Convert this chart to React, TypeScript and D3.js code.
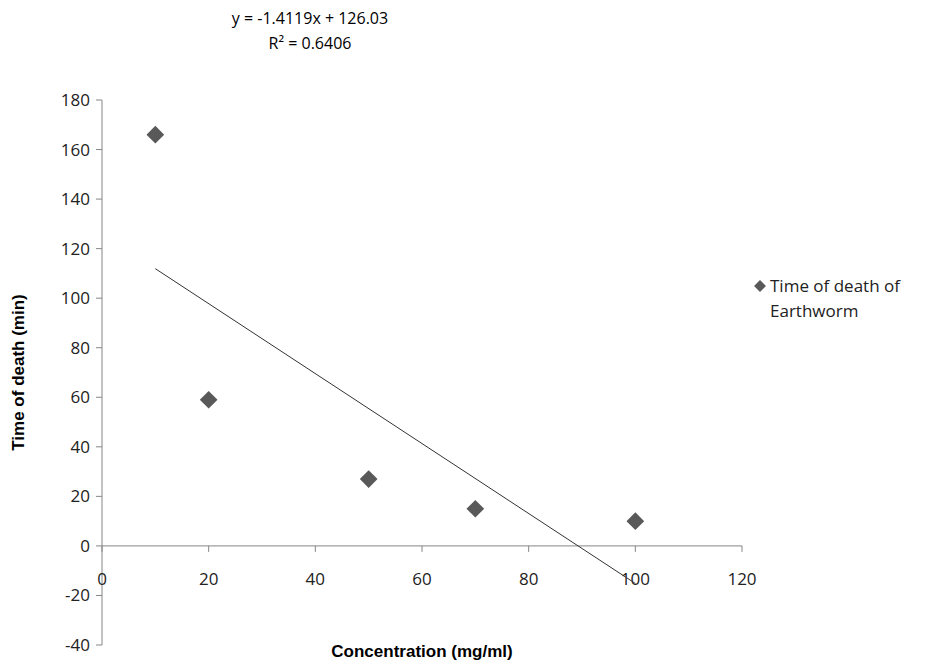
import * as React from 'react';
import * as d3 from 'd3';

const concentration = [10, 20, 50, 70, 100];
const deathTime = [166, 59, 27, 15, 10];
const xTicks = [0, 20, 40, 60, 80, 100, 120];
const yTicks = [-40, -20, 0, 20, 40, 60, 80, 100, 120, 140, 160, 180];
const slope = -1.4119;
const intercept = 126.03;
const trendRange = [10, 100];

const font = '"Open Sans", "Liberation Sans", sans-serif';

export default function App() {
  const x = d3.scaleLinear().domain([0, 120]).range([102, 742]);
  const y = d3.scaleLinear().domain([-40, 180]).range([645, 100]);
  const line = d3.line<number>().x(d => x(d)).y(d => y(slope * d + intercept));
  const diamond = d3.symbol().type(d3.symbolDiamond2).size(200);
  return (
    <svg width={935} height={665} style={{ position: 'absolute', left: 0, top: 0, background: '#fff' }}>
      <text x={310} y={24} textAnchor="middle" fontFamily={font} fontSize={16}>y = -1.4119x + 126.03</text>
      <text x={310} y={49} textAnchor="middle" fontFamily={font} fontSize={16}>R² = 0.6406</text>
      <line x1={x(0)} x2={x(0)} y1={y(180)} y2={y(-40)} stroke="#868686" />
      {yTicks.map(t => (
        <g key={t}>
          <line x1={x(0) - 6} x2={x(0)} y1={y(t)} y2={y(t)} stroke="#868686" />
          <text x={x(0) - 12} y={y(t) + 6} textAnchor="end" fontFamily={font} fontSize={17} fill="#222">{t}</text>
        </g>
      ))}
      <line x1={x(0)} x2={x(120)} y1={y(0)} y2={y(0)} stroke="#868686" />
      {xTicks.map(t => (
        <g key={t}>
          <line x1={x(t)} x2={x(t)} y1={y(0)} y2={y(0) + 6} stroke="#868686" />
          <text x={x(t)} y={y(0) + 39} textAnchor="middle" fontFamily={font} fontSize={17} fill="#222">{t}</text>
        </g>
      ))}
      <path d={line(trendRange) || ''} stroke="#333" strokeWidth={1} fill="none" />
      {concentration.map((c, i) => (
        <path key={c} d={diamond() || ''} transform={`translate(${x(c)},${y(deathTime[i])})`} fill="#595959" />
      ))}
      <text transform={`translate(24,${y(70)}) rotate(-90)`} textAnchor="middle" fontFamily="Arial, 'Liberation Sans'" fontWeight="bold" fontSize={17}>Time of death (min)</text>
      <text x={422} y={657} textAnchor="middle" fontFamily="Arial, 'Liberation Sans'" fontWeight="bold" fontSize={17}>Concentration (mg/ml)</text>
      <path d={d3.symbol().type(d3.symbolDiamond2).size(90)() || ''} transform="translate(760,286)" fill="#595959" />
      <text x={770} y={292} fontFamily={font} fontSize={17} fill="#222">Time of death of</text>
      <text x={770} y={317} fontFamily={font} fontSize={17} fill="#222">Earthworm</text>
    </svg>
  );
}
